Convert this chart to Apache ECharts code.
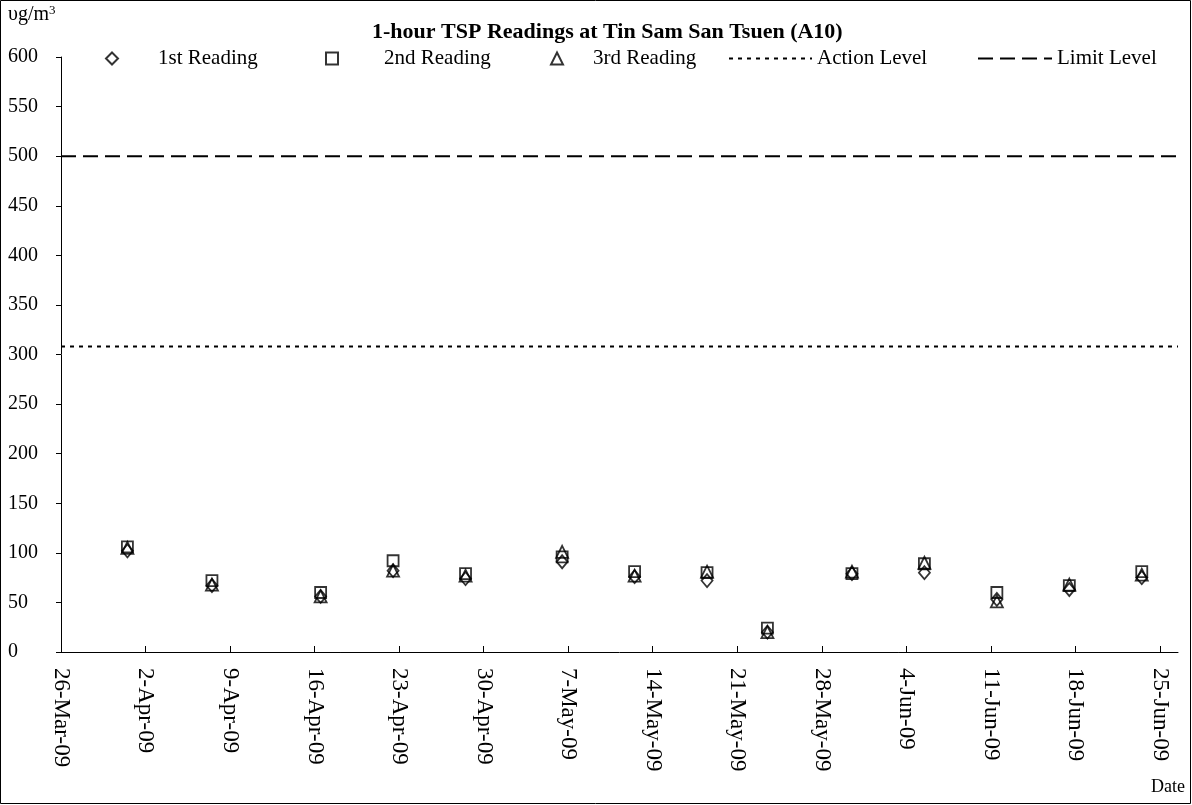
<!DOCTYPE html>
<html>
<head>
<meta charset="utf-8">
<script src="https://cdn.jsdelivr.net/npm/echarts@6/dist/echarts.min.js"></script>
<style>
  html, body { margin: 0; padding: 0; background: #fff; }
  #chart { width: 1192px; height: 805px; }
</style>
</head>
<body>
<div id="chart"></div>
<script>
(function () {
  "use strict";

  var sampleDates = [
    "2009-03-31", "2009-04-07", "2009-04-16", "2009-04-22", "2009-04-28",
    "2009-05-06", "2009-05-12", "2009-05-18", "2009-05-23", "2009-05-30",
    "2009-06-05", "2009-06-11", "2009-06-17", "2009-06-23"
  ];
  var firstReading = [102, 67, 56, 82, 74, 91, 76, 72, 20, 79, 80, 53, 63, 75];
  var secondReading = [106, 72, 60, 92, 79, 96, 81, 80, 24, 79, 89, 60, 67, 81];
  var thirdReading = [105, 68, 56, 82, 77, 101, 77, 81, 20, 81, 90, 51, 68, 78];
  var actionLevel = 308;
  var limitLevel = 500;
  var tickDates = [
    "2009-03-26", "2009-04-02", "2009-04-09", "2009-04-16", "2009-04-23",
    "2009-04-30", "2009-05-07", "2009-05-14", "2009-05-21", "2009-05-28",
    "2009-06-04", "2009-06-11", "2009-06-18", "2009-06-25"
  ];
  var axisEndDate = "2009-06-26";

  var MONTHS = ["Jan", "Feb", "Mar", "Apr", "May", "Jun", "Jul", "Aug", "Sep", "Oct", "Nov", "Dec"];
  var FONT = "Liberation Serif";

  // day number since epoch (UTC)
  function dayNum(s) {
    var p = s.split("-");
    return Date.UTC(+p[0], +p[1] - 1, +p[2]) / 86400000;
  }
  function fmtDay(d) {
    var dt = new Date(Math.round(d) * 86400000);
    var yy = String(dt.getUTCFullYear()).slice(2);
    return dt.getUTCDate() + "-" + MONTHS[dt.getUTCMonth()] + "-" + yy;
  }

  var ticks = tickDates.map(dayNum);
  var xMin = ticks[0];
  var xMax = dayNum(axisEndDate) + 0.5;

  // excel date axis puts each point in the middle of its day slot
  function pts(values) {
    return values.map(function (v, i) {
      return [dayNum(sampleDates[i]) + 0.5, v];
    });
  }

  var markerStyle = { color: "rgba(0,0,0,0)", borderColor: "#000", borderWidth: 1.8 };

  var chart = echarts.init(document.getElementById("chart"));

  // one legend per entry so each can sit where excel put it
  function markerLegend(name, left, textPad) {
    return {
      data: [name],
      left: left,
      top: 43,
      itemWidth: 12,
      itemHeight: 12,
      selectedMode: false,
      textStyle: { fontFamily: FONT, fontSize: 21, color: "#000", padding: [0, 0, 0, textPad] }
    };
  }
  function lineLegend(name, left, width) {
    return {
      data: [name],
      left: left,
      top: 43,
      itemWidth: width,
      itemHeight: 12,
      selectedMode: false,
      itemStyle: { color: "rgba(0,0,0,0)", borderWidth: 0, opacity: 0 },
      textStyle: { fontFamily: FONT, fontSize: 21, color: "#000" }
    };
  }

  chart.setOption({
    animation: false,
    title: {
      text: "1-hour TSP Readings at Tin Sam San Tsuen (A10)",
      left: 367,
      top: 16,
      textStyle: { fontFamily: FONT, fontSize: 22, fontWeight: "bold", color: "#000" }
    },
    legend: [
      markerLegend("1st Reading", 100, 35),
      markerLegend("2nd Reading", 320, 41),
      markerLegend("3rd Reading", 545, 25),
      lineLegend("Action Level", 723, 83),
      lineLegend("Limit Level", 972, 74)
    ],
    graphic: [
      {
        type: "rect",
        shape: { x: 0.5, y: 0.5, width: 1190, height: 803 },
        style: { fill: "none", stroke: "#000", lineWidth: 1 },
        silent: true
      },
      {
        type: "text",
        left: 8,
        top: 4,
        style: {
          text: "{a|υg/m}{s|3}",
          rich: {
            a: { fontFamily: FONT, fontSize: 20, fill: "#000" },
            s: { fontFamily: FONT, fontSize: 13, fill: "#000", verticalAlign: "top", padding: [0, 0, 9, 0] }
          }
        }
      },
      {
        type: "text",
        left: 1151,
        top: 778,
        style: { text: "Date", fontFamily: FONT, fontSize: 18, fill: "#000" }
      }
    ],
    grid: { left: 61, right: 14, top: 57, bottom: 153 },
    xAxis: {
      type: "value",
      min: xMin,
      max: xMax,
      interval: 7,
      splitLine: { show: false },
      axisLine: { show: true, lineStyle: { color: "#000", width: 1 } },
      axisTick: { show: true, inside: true, length: 6, customValues: ticks, lineStyle: { color: "#000" } },
      axisLabel: {
        customValues: ticks,
        rotate: -90,
        margin: 16,
        fontFamily: FONT,
        fontSize: 23,
        color: "#000",
        formatter: fmtDay
      }
    },
    yAxis: {
      type: "value",
      min: 0,
      max: 600,
      interval: 50,
      splitLine: { show: false },
      axisLine: { show: true, lineStyle: { color: "#000", width: 1 } },
      axisTick: { show: true, length: 5, lineStyle: { color: "#000" } },
      axisLabel: {
        align: "left",
        margin: 53,
        fontFamily: FONT,
        fontSize: 20,
        color: "#000"
      }
    },
    series: [
      {
        name: "1st Reading",
        type: "scatter",
        symbol: "diamond",
        symbolSize: [11, 13],
        itemStyle: markerStyle,
        data: pts(firstReading)
      },
      {
        name: "2nd Reading",
        type: "scatter",
        symbol: "rect",
        symbolSize: 11,
        itemStyle: markerStyle,
        data: pts(secondReading)
      },
      {
        name: "3rd Reading",
        type: "scatter",
        symbol: "triangle",
        symbolSize: 12,
        itemStyle: markerStyle,
        data: pts(thirdReading)
      },
      {
        name: "Action Level",
        type: "line",
        symbol: "none",
        color: "#000",
        lineStyle: { color: "#000", width: 2, type: [4, 5] },
        data: [[xMin, actionLevel], [xMax, actionLevel]]
      },
      {
        name: "Limit Level",
        type: "line",
        symbol: "none",
        color: "#000",
        lineStyle: { color: "#000", width: 2, type: [15, 7] },
        data: [[xMin, limitLevel], [xMax, limitLevel]]
      }
    ]
  });

  window.addEventListener("resize", function () {
    chart.resize();
  });
})();
</script>
</body>
</html>
